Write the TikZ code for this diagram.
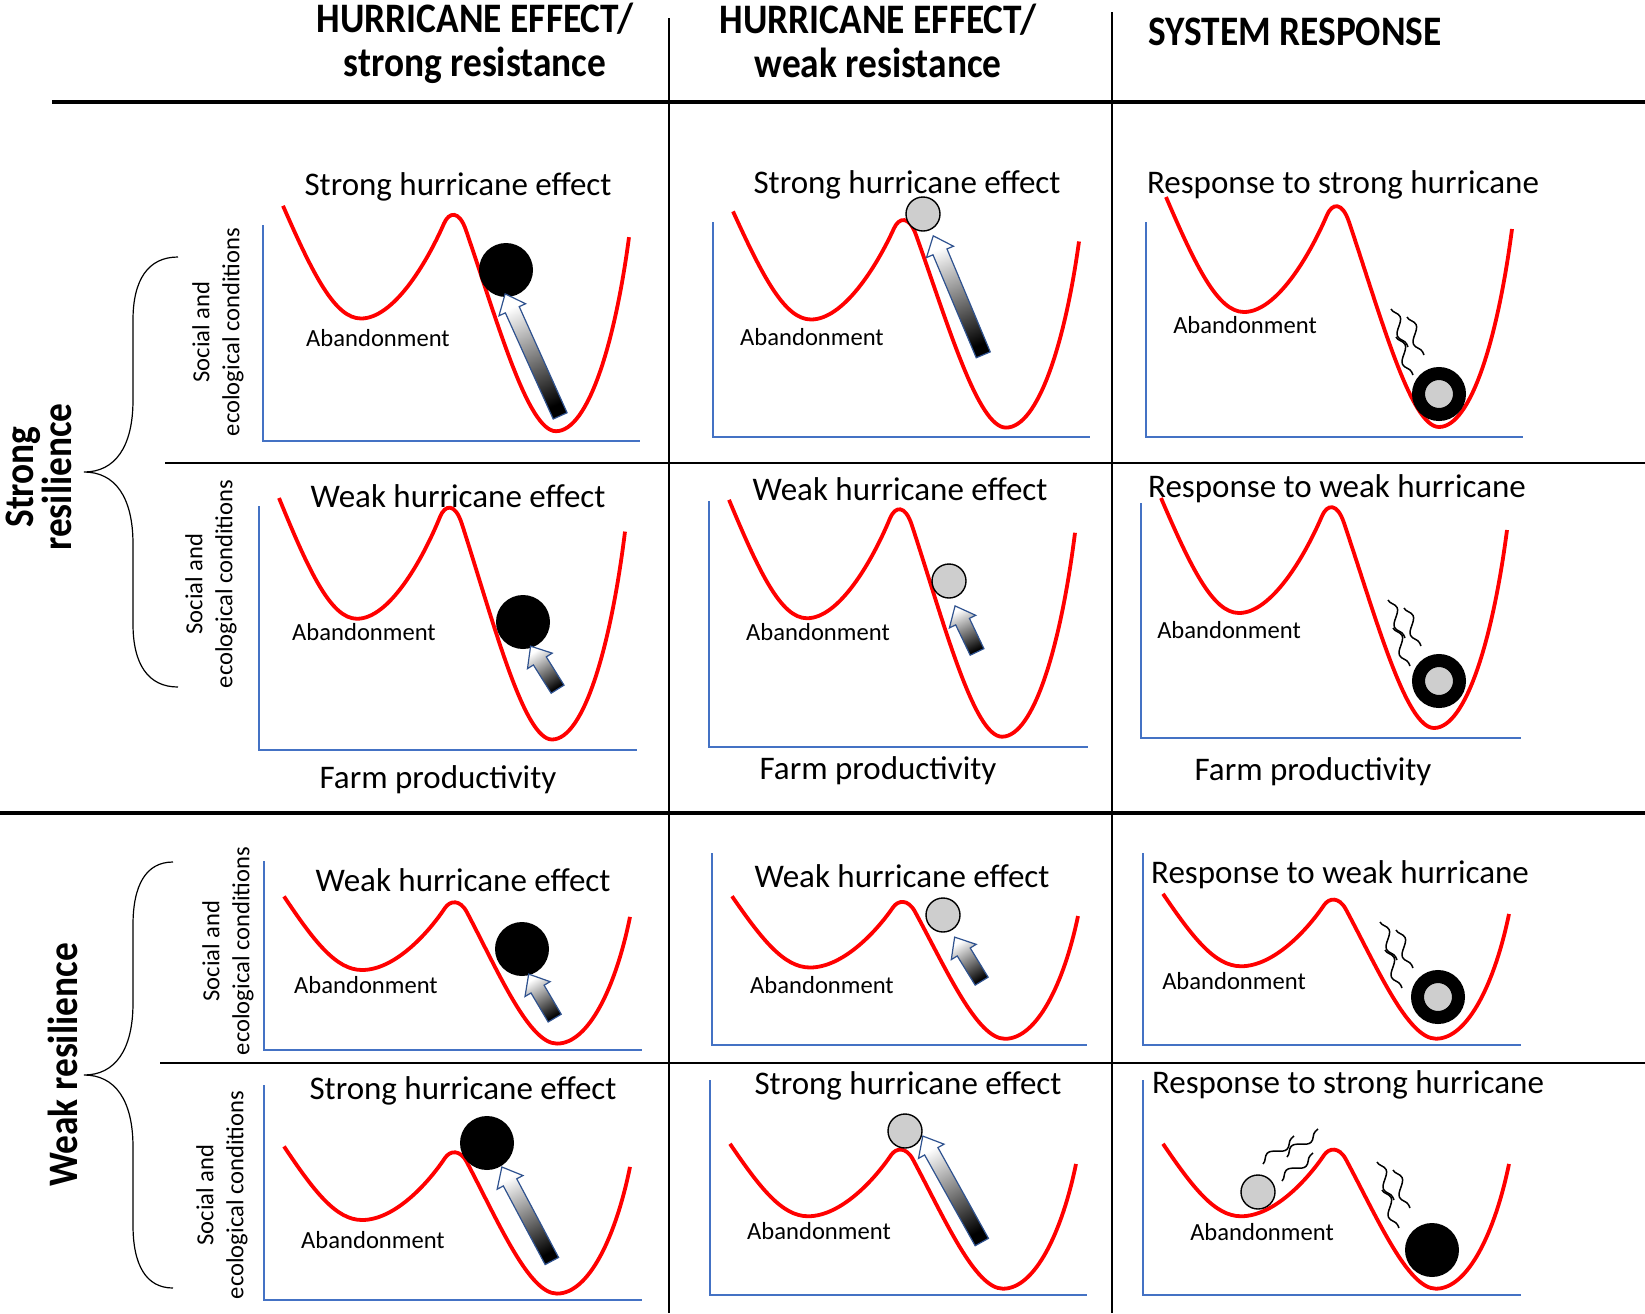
\documentclass[tikz,border=0pt]{standalone}
\usepackage{fontspec}
\setmainfont{Carlito}
\newfontfamily\headfont[FakeStretch=0.89]{Carlito}
\usepackage{tikz}
\usetikzlibrary{calc,shapes.arrows,decorations.pathmorphing}

\definecolor{axisblue}{RGB}{68,114,196}
\definecolor{arrowblue}{RGB}{47,82,143}
\definecolor{arrowmid}{RGB}{150,155,178}
\definecolor{ballgray}{RGB}{206,206,206}

\tikzstyle{heavyrule} = [line width=2pt]
\tikzstyle{lightrule} = [line width=0.7pt]
\tikzstyle{colhead} = [font=\headfont\bfseries\fontsize{21}{22}\selectfont, align=center, inner sep=0pt]
\tikzstyle{rowhead} = [font=\headfont\bfseries\fontsize{21}{19}\selectfont, align=center, inner sep=0pt, rotate=90]
\tikzstyle{brace} = [line width=0.6pt]
\tikzstyle{paneltitle} = [font=\fontsize{16.5}{19}\selectfont, inner sep=0pt]
\tikzstyle{basin} = [font=\fontsize{12.3}{14}\selectfont, inner sep=0pt]
\tikzstyle{ylab} = [font=\fontsize{12.3}{15}\selectfont, align=center, inner sep=0pt, rotate=90]
\tikzstyle{xlab} = [font=\fontsize{16.5}{19}\selectfont, inner sep=0pt]
\tikzstyle{axisline} = [draw=axisblue, line width=0.9pt]
\tikzstyle{valley} = [draw=red, line width=1.9pt]
\tikzstyle{blackball} = [circle, fill=black, inner sep=0pt, minimum size=27pt]
\tikzstyle{grayball} = [circle, draw=black, line width=0.7pt, fill=ballgray, inner sep=0pt, minimum size=17pt]
\tikzstyle{ringball} = [circle, draw=black, line width=6.5pt, fill=ballgray, inner sep=0pt, minimum size=20.5pt]
\tikzstyle{harrow} = [single arrow, draw=arrowblue, line width=0.6pt, inner sep=3.5pt,
    single arrow head extend=3.5pt, single arrow tip angle=80,
    top color=white, middle color=arrowmid, bottom color=black]
\tikzstyle{wisp} = [line width=0.75pt, decorate, decoration={snake, amplitude=2.6pt, segment length=17pt}]

\tikzset{gust/.pic={
  \draw[wisp] (0,0) -- (17,38);
  \draw[wisp] (16,8) -- (33,46);
  \draw[wisp] (5,28) -- (22,66);
}}

% axes: origin, height, width
\newcommand{\axes}[3]{\draw[axisline] ($(#1)+(0,-#2)$) -- (#1) -- ($(#1)+(#3,0)$);}
% double-well curve: origin, vertical scale
\newcommand{\basincurve}[2]{%
\begin{scope}[shift={(#1)}, yscale=#2]
\draw[valley] (20,-240) .. controls (50,-170) and (72,-125) .. (98,-125)
  .. controls (130,-125) and (163,-180) .. (181,-222)
  .. controls (186,-233.7) and (196,-236) .. (203,-215)
  .. controls (235,-120) and (265,-10) .. (293,-10)
  .. controls (325,-10) and (352,-100) .. (366,-208);
\end{scope}}
% push arrow: tail, tip
\newcommand{\pusharrow}[2]{%
\path let \p1=(#1), \p2=(#2), \n1={atan2(\y2-\y1,\x2-\x1)}, \n2={veclen(\x2-\x1,\y2-\y1)}, \n3={\n1-90} in
  node[harrow, shading angle=\n3, minimum height=\n2, rotate=\n1] at ($(#1)!0.5!(#2)$) {};}

\begin{document}
\begin{tikzpicture}[x=0.5pt, y=-0.5pt]
\useasboundingbox (0,0) rectangle (1645,1313);

%% Rules %%
\draw[heavyrule] (52,102) -- (1645,102);
\draw[heavyrule] (0,813) -- (1645,813);
\draw[lightrule] (165,463) -- (1645,463);
\draw[lightrule] (160,1063) -- (1645,1063);
\draw[lightrule] (669,18) -- (669,1313);
\draw[lightrule] (1112,12) -- (1112,1313);

%% Column heads %%
\node[colhead] (HeadStrong) at (475,43) {HURRICANE EFFECT/\\strong resistance};
\node[colhead] (HeadWeak) at (878,41) {HURRICANE EFFECT/\\weak resistance};
\node[colhead] (HeadResp) at (1295,32) {SYSTEM RESPONSE};

%% Row heads %%
\node[rowhead] (StrongRes) at (39,477) {Strong\\resilience};
\node[rowhead] (WeakRes) at (63,1065) {Weak resilience};

\draw[brace] (178,257) .. controls (148,257) and (133,280) .. (133,320) -- (133,400)
  .. controls (133,447) and (115,472) .. (84,472) .. controls (115,472) and (133,497) .. (133,544)
  -- (133,624) .. controls (133,664) and (148,687) .. (178,687);
\draw[brace] (173,862) .. controls (146,862) and (133,885) .. (133,925) -- (133,1003)
  .. controls (133,1050) and (115,1075) .. (84,1075) .. controls (115,1075) and (133,1100) .. (133,1147)
  -- (133,1225) .. controls (133,1265) and (146,1288) .. (173,1288);

%% Panel origins %%
\coordinate (O11) at (263,441);
\coordinate (O12) at (713,437);
\coordinate (O13) at (1146,437);
\coordinate (O21) at (259,750);
\coordinate (O22) at (709,747);
\coordinate (O23) at (1141,738);
\coordinate (O31) at (264,1050);
\coordinate (O32) at (712,1045);
\coordinate (O33) at (1143,1045);
\coordinate (O41) at (264,1300);
\coordinate (O42) at (710,1295);
\coordinate (O43) at (1143,1295);

%% Strong resilience, strong hurricane %%
\axes{O11}{216}{377}
\basincurve{O11}{0.98}
\node[paneltitle] (T11) at ($(O11)+(195,-254)$) {Strong hurricane effect};
\node[basin] (A11) at ($(O11)+(115,-103)$) {Abandonment};
\node[ylab] (Y11) at ($(O11)+(-45,-109)$) {Social and\\ecological conditions};
\node[blackball] (B11) at ($(O11)+(243,-171)$) {};
\pusharrow{$(O11)+(299,-21)$}{$(O11)+(244,-143)$}

\axes{O12}{215}{377}
\basincurve{O12}{0.94}
\node[paneltitle] (T12) at ($(O12)+(194,-252)$) {Strong hurricane effect};
\node[basin] (A12) at ($(O12)+(99,-100)$) {Abandonment};
\node[grayball] (B12) at ($(O12)+(210,-223)$) {};
\pusharrow{$(O12)+(272,-78)$}{$(O12)+(222,-197)$}

\axes{O13}{215}{377}
\basincurve{O13}{1.0}
\node[paneltitle] (T13) at ($(O13)+(197,-252)$) {Response to strong hurricane};
\node[basin] (A13) at ($(O13)+(99,-112)$) {Abandonment};
\node[ringball] (B13) at ($(O13)+(293,-43)$) {};
\pic at ($(O13)+(245,-128)$) {gust};

%% Strong resilience, weak hurricane %%
\axes{O21}{244}{378}
\basincurve{O21}{1.05}
\node[paneltitle] (T21) at ($(O21)+(199,-254)$) {Weak hurricane effect};
\node[basin] (A21) at ($(O21)+(105,-118)$) {Abandonment};
\node[ylab] (Y21) at ($(O21)+(-48,-166)$) {Social and\\ecological conditions};
\node[blackball] (B21) at ($(O21)+(264,-128)$) {};
\pusharrow{$(O21)+(301,-57)$}{$(O21)+(274,-100)$}
\node[xlab] (X21) at ($(O21)+(179,30)$) {Farm productivity};

\axes{O22}{246}{379}
\basincurve{O22}{1.03}
\node[paneltitle] (T22) at ($(O22)+(191,-258)$) {Weak hurricane effect};
\node[basin] (A22) at ($(O22)+(109,-115)$) {Abandonment};
\node[grayball] (B22) at ($(O22)+(240,-166)$) {};
\pusharrow{$(O22)+(270,-91)$}{$(O22)+(248,-137)$}
\node[xlab] (X22) at ($(O22)+(169,24)$) {Farm productivity};

\axes{O23}{235}{380}
\basincurve{O23}{1.0}
\node[paneltitle] (T23) at ($(O23)+(196,-249)$) {Response to weak hurricane};
\node[basin] (A23) at ($(O23)+(88,-108)$) {Abandonment};
\node[ringball] (B23) at ($(O23)+(298,-57)$) {};
\pic at ($(O23)+(247,-138)$) {gust};
\node[xlab] (X23) at ($(O23)+(172,34)$) {Farm productivity};

%% Weak resilience, weak hurricane %%
\axes{O31}{189}{378}
\basincurve{O31}{0.64}
\node[paneltitle] (T31) at ($(O31)+(199,-170)$) {Weak hurricane effect};
\node[basin] (A31) at ($(O31)+(102,-65)$) {Abandonment};
\node[ylab] (Y31) at ($(O31)+(-36,-99)$) {Social and\\ecological conditions};
\node[blackball] (B31) at ($(O31)+(258,-101)$) {};
\pusharrow{$(O31)+(293,-28)$}{$(O31)+(267,-72)$}

\axes{O32}{192}{375}
\basincurve{O32}{0.62}
\node[paneltitle] (T32) at ($(O32)+(190,-169)$) {Weak hurricane effect};
\node[basin] (A32) at ($(O32)+(110,-60)$) {Abandonment};
\node[grayball] (B32) at ($(O32)+(231,-130)$) {};
\pusharrow{$(O32)+(272,-60)$}{$(O32)+(245,-104)$}

\axes{O33}{192}{378}
\basincurve{O33}{0.63}
\node[paneltitle] (T33) at ($(O33)+(197,-170)$) {Response to weak hurricane};
\node[basin] (A33) at ($(O33)+(91,-64)$) {Abandonment};
\node[ringball] (B33) at ($(O33)+(295,-48)$) {};
\pic at ($(O33)+(237,-123)$) {gust};

%% Weak resilience, strong hurricane %%
\axes{O41}{215}{378}
\basincurve{O41}{0.64}
\node[paneltitle] (T41) at ($(O41)+(199,-209)$) {Strong hurricane effect};
\node[basin] (A41) at ($(O41)+(109,-60)$) {Abandonment};
\node[ylab] (Y41) at ($(O41)+(-42,-105)$) {Social and\\ecological conditions};
\node[blackball] (B41) at ($(O41)+(223,-157)$) {};
\pusharrow{$(O41)+(290,-35)$}{$(O41)+(240,-129)$}

\axes{O42}{215}{377}
\basincurve{O42}{0.63}
\node[paneltitle] (T42) at ($(O42)+(198,-209)$) {Strong hurricane effect};
\node[basin] (A42) at ($(O42)+(109,-64)$) {Abandonment};
\node[grayball] (B42) at ($(O42)+(195,-164)$) {};
\pusharrow{$(O42)+(274,-49)$}{$(O42)+(215,-155)$}

\axes{O43}{215}{378}
\basincurve{O43}{0.63}
\node[paneltitle] (T43) at ($(O43)+(205,-210)$) {Response to strong hurricane};
\node[basin] (A43) at ($(O43)+(119,-63)$) {Abandonment};
\node[grayball] (G43) at ($(O43)+(115,-103)$) {};
\node[blackball] (B43) at ($(O43)+(289,-45)$) {};
\draw[wisp] ($(O43)+(120,-131)$) -- ++(31,-28);
\draw[wisp] ($(O43)+(144,-138)$) -- ++(31,-28);
\draw[wisp] ($(O43)+(139,-114)$) -- ++(31,-28);
\pic at ($(O43)+(234,-133)$) {gust};
\end{tikzpicture}
\end{document}
